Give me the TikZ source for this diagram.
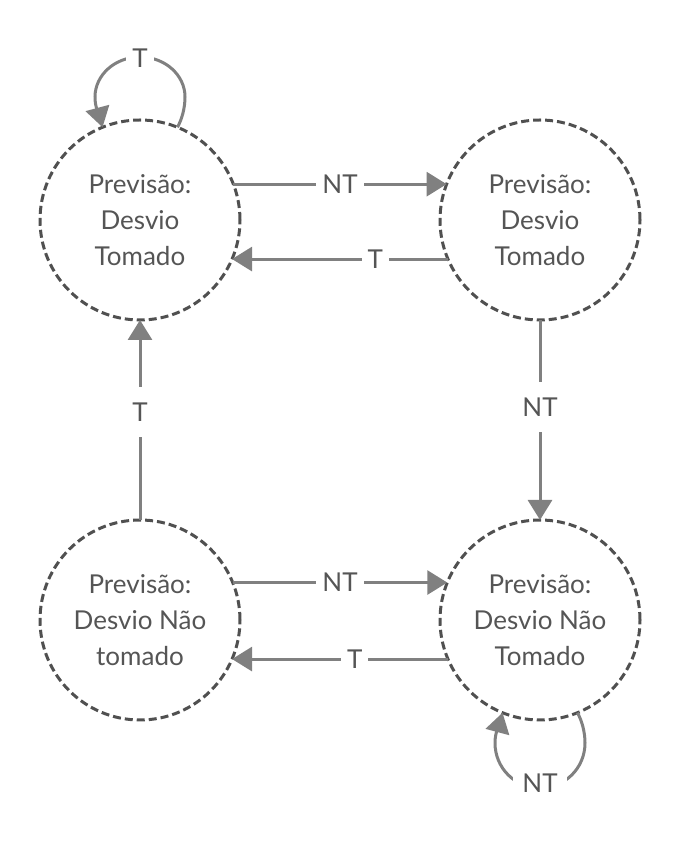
\documentclass[tikz,border=0pt]{standalone}
\usepackage{fontspec}
\setmainfont{Lato}
\usetikzlibrary{arrows.meta,calc}
\definecolor{ringc}{HTML}{505050}
\definecolor{arrc}{HTML}{808080}
\definecolor{txtc}{HTML}{555555}
\begin{document}
\begin{tikzpicture}[x=1pt,y=1pt,
  state/.style={circle, draw=ringc, line width=3pt, dash pattern=on 8pt off 4pt,
    minimum size=200pt, inner sep=0pt, outer sep=0pt, align=center, text=txtc,
    font=\fontsize{26}{36}\selectfont},
  arr/.style={draw=arrc, line width=3pt, -{Triangle[length=20pt,width=24pt]}},
  lbl/.style={fill=white, text=txtc, font=\fontsize{26}{30}\selectfont,
    inner xsep=6pt, inner ysep=16pt}]
\useasboundingbox (0,0) rectangle (680,843);
\node[state] (A) at (140,623) {Previsão:\\Desvio\\Tomado};
\node[state] (B) at (540,623) {Previsão:\\Desvio\\Tomado};
\node[state] (C) at (140,223) {Previsão:\\Desvio Não\\tomado};
\node[state] (D) at (540,223) {Previsão:\\Desvio Não\\Tomado};
% horizontal arrows
\draw[arr] (A.21) -- node[lbl,pos=0.5] (l1) {NT} (B.159);
\draw[arr] (B.-157) -- node[lbl,pos=0.336] (l2) {T} (A.-23);
\draw[arr] (C.22) -- node[lbl,pos=0.5] (l3) {NT} (D.158);
\draw[arr] (D.-157) -- node[lbl,pos=0.432] (l4) {T} (C.-23);
% vertical arrows
\draw[arr] (C.north) -- node[lbl,pos=0.54] (l5) {T} (A.south);
\draw[arr] (B.south) -- node[lbl,pos=0.435] (l6) {NT} (D.north);
% self loops
\draw[arr] (A.68) .. controls ($(A)+(42,101)$) and ($(A)+(45,112)$) .. ($(A)+(45,123)$)
  .. controls ($(A)+(45,145)$) and ($(A)+(25,163)$) .. ($(A)+(0,163)$)
  .. controls ($(A)+(-25,163)$) and ($(A)+(-45,145)$) .. ($(A)+(-45,123)$)
  .. controls ($(A)+(-45,112)$) and ($(A)+(-41,106)$) .. (A.112);
\node[lbl] (l7) at ($(A)+(0,162)$) {T};
\draw[arr] (D.-68) .. controls ($(D)+(42,-101)$) and ($(D)+(45,-112)$) .. ($(D)+(45,-123)$)
  .. controls ($(D)+(45,-148)$) and ($(D)+(25,-168)$) .. ($(D)+(0,-168)$)
  .. controls ($(D)+(-25,-168)$) and ($(D)+(-45,-148)$) .. ($(D)+(-45,-123)$)
  .. controls ($(D)+(-45,-112)$) and ($(D)+(-41,-106)$) .. (D.-112);
\node[lbl, inner xsep=9pt] (l8) at ($(D)+(0,-163)$) {NT};
\end{tikzpicture}
\end{document}
